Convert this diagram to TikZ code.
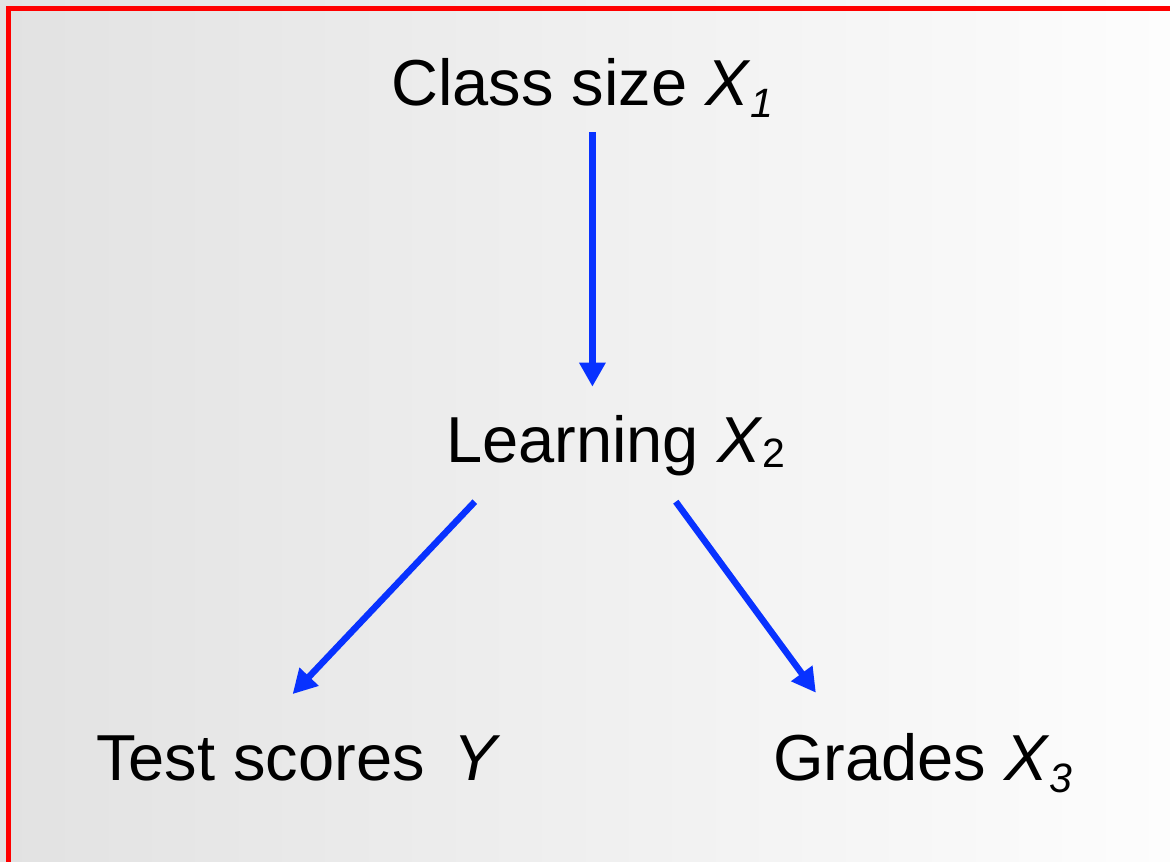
\documentclass[tikz,border=0pt]{standalone}
\usepackage{fontspec}
\setmainfont{Liberation Sans}
\usetikzlibrary{arrows.meta}
\definecolor{arrblue}{RGB}{8,50,255}
\definecolor{bgleft}{RGB}{226,226,226}
\definecolor{bgright}{RGB}{253,253,253}
\newcommand{\mainsz}{\fontsize{65}{70}\selectfont}
\newcommand{\subsz}{\fontsize{41}{44}\selectfont}
\tikzset{
  lbl/.style={anchor=base west, inner sep=0pt, font=\mainsz, text=black},
  arr/.style={draw=arrblue, line width=6.5pt, -{Triangle[length=24pt,width=25pt]}},
}
\begin{document}
\begin{tikzpicture}[x=1pt,y=-1pt]
\useasboundingbox (0,0) rectangle (1170,862);
\begin{scope}
\clip (0,0) rectangle (1170,862);
\shade[left color=bgleft, right color=bgright] (0,0) rectangle (1170,862);
\draw[red, line width=5.5pt] (8.5,8.5) rectangle (1200,900);
\end{scope}
\node[lbl] (c1) at (391,105) {Class size \textit{X}\raisebox{-12pt}{\subsz\textit{1}}};
\node[lbl] (l2) at (446,462) {Learning \textit{X}\raisebox{-5pt}{\subsz 2}};
\node[lbl] (ty) at (96,780) {Test scores \,\textit{Y}};
\node[lbl] (g3) at (773,780) {Grades \textit{X}\raisebox{-12pt}{\subsz\textit{3}}};
\coordinate (c1out) at ([xshift=10pt,yshift=-15pt]c1.south);
\coordinate (l2in) at ([yshift=28pt]l2.north);
\draw[arr] (c1out) -- (c1out |- l2in);
\draw[arr] ([xshift=-141pt,yshift=-26pt]l2.south) -- ([xshift=-6pt,yshift=41pt]ty.north);
\draw[arr] ([xshift=60pt,yshift=-26pt]l2.south) -- ([xshift=-107pt,yshift=40pt]g3.north);
\end{tikzpicture}
\end{document}
